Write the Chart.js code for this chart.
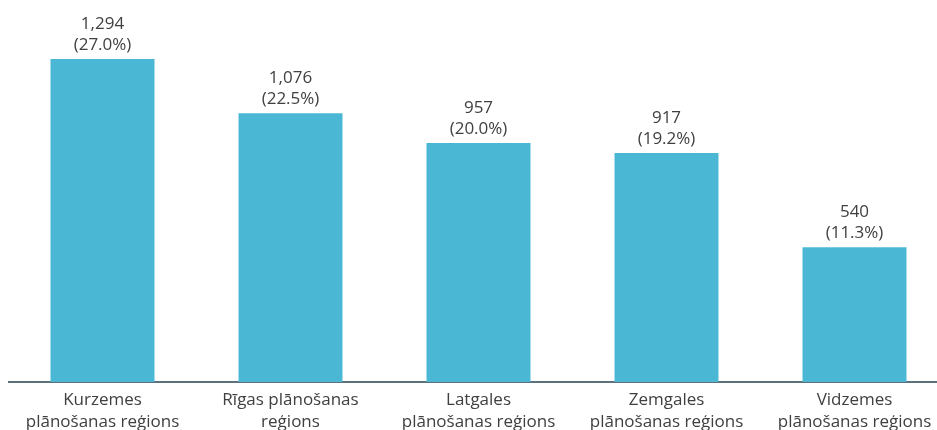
<!DOCTYPE html>
<html>
<head>
<meta charset="utf-8">
<script src="https://cdn.jsdelivr.net/npm/chart.js@4.4.1/dist/chart.umd.min.js"></script>
<style>
  html, body { margin: 0; padding: 0; background: #ffffff; overflow: hidden; }
  #wrap { width: 937px; height: 430px; overflow: hidden; position: relative; }
  canvas { display: block; }
</style>
</head>
<body>
<div id="wrap"><canvas id="c" width="956" height="430"></canvas></div>
<script>
const categories = [
  ['Kurzemes', 'plānošanas reģions'],
  ['Rīgas plānošanas', 'reģions'],
  ['Latgales', 'plānošanas reģions'],
  ['Zemgales', 'plānošanas reģions'],
  ['Vidzemes', 'plānošanas reģions']
];
const values = [1294, 1076, 957, 917, 540];
const valueLabels = ['1,294', '1,076', '957', '917', '540'];
const percentLabels = ['(27.0%)', '(22.5%)', '(20.0%)', '(19.2%)', '(11.3%)'];

const FONT = '"Open Sans", Lato, sans-serif';
const TEXT_COLOR = '#404040';

const dataLabelPlugin = {
  id: 'dataLabels',
  afterDatasetsDraw(chart) {
    const ctx = chart.ctx;
    const meta = chart.getDatasetMeta(0);
    ctx.save();
    ctx.fillStyle = TEXT_COLOR;
    ctx.font = '17px ' + FONT;
    ctx.textAlign = 'center';
    ctx.textBaseline = 'alphabetic';
    meta.data.forEach((bar, i) => {
      ctx.fillText(percentLabels[i], bar.x, bar.y - 9);
      ctx.fillText(valueLabels[i], bar.x, bar.y - 30);
    });
    ctx.restore();
  }
};

new Chart(document.getElementById('c'), {
  type: 'bar',
  data: {
    labels: categories,
    datasets: [{
      data: values,
      backgroundColor: '#4ab8d4',
      borderWidth: 0,
      categoryPercentage: 1.0,
      barPercentage: 0.553
    }]
  },
  options: {
    responsive: false,
    animation: false,
    devicePixelRatio: 1,
    layout: { padding: { left: 8.5, right: 7.5, top: 0, bottom: 0 } },
    plugins: {
      legend: { display: false },
      tooltip: { enabled: false },
      title: { display: false }
    },
    scales: {
      x: {
        grid: { display: false, drawTicks: false, tickLength: 0 },
        border: { display: true, color: '#5d717c', width: 2 },
        ticks: {
          color: TEXT_COLOR,
          font: { family: FONT, size: 17, lineHeight: 1.3 },
          padding: 7,
          maxRotation: 0,
          autoSkip: false
        },
        afterFit(scale) { scale.height = 48; }
      },
      y: {
        display: false,
        min: 0,
        max: 1530
      }
    }
  },
  plugins: [dataLabelPlugin]
});
</script>
</body>
</html>
